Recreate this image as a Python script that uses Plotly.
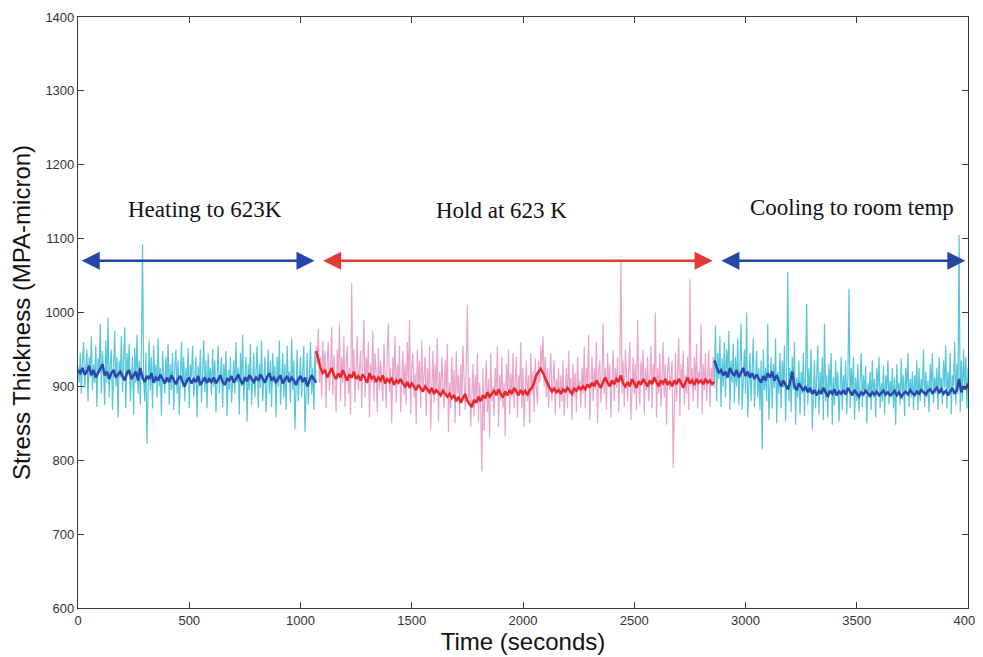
import plotly.graph_objects as go

# ---------------- data ----------------
heat_t0, heat_raw_step, heat_smooth_step = 0, 5, 10
heat_raw = [
    928, 905, 945, 890, 935, 960, 898, 922, 950, 880, 940, 912, 968, 895, 930, 905, 955, 872, 938, 918,
    985, 890, 948, 920, 875, 962, 905, 993, 885, 930, 950, 868, 925, 975, 900, 940, 858, 935, 912, 968,
    892, 930, 980, 870, 945, 915, 958, 880, 925, 940, 862, 952, 905, 970, 890, 935, 875, 950, 1092, 910,
    880, 945, 822, 925, 962, 895, 940, 870, 955, 908, 930, 885, 965, 900, 925, 860, 948, 915, 890, 940,
    905, 958, 875, 930, 895, 945, 868, 925, 950, 890, 935, 862, 915, 960, 898, 940, 880, 925, 905, 952,
    870, 930, 912, 955, 885, 920, 940, 858, 928, 900, 950, 878, 915, 962, 892, 935, 870, 945, 905, 925,
    888, 950, 900, 935, 865, 925, 955, 890, 918, 940, 872, 930, 905, 948, 860, 922, 895, 940, 878, 915,
    935, 890, 960, 905, 925, 862, 945, 900, 970, 880, 918, 940, 852, 930, 895, 958, 875, 920, 945, 885,
    912, 955, 870, 930, 898, 962, 880, 925, 940, 865, 920, 950, 890, 935, 872, 945, 905, 928, 858, 940,
    900, 962, 875, 925, 945, 885, 930, 868, 955, 905, 920, 878, 965, 895, 935, 842, 918, 950, 880, 925,
    940, 885, 920, 955, 838, 910, 945, 875, 930, 960, 890, 925, 868, 948, 905,
]
heat_smooth = [
    922, 918, 925, 916, 920, 928, 915, 922, 912, 918, 924, 930, 915, 920, 910, 918, 922, 912, 916, 920,
    914, 908, 918, 922, 910, 915, 920, 908, 925, 912, 906, 914, 910, 918, 905, 912, 908, 916, 910, 904,
    912, 906, 915, 908, 903, 910, 914, 906, 900, 908, 912, 904, 910, 906, 914, 902, 908, 912, 905, 910,
    906, 912, 904, 910, 915, 906, 902, 910, 908, 914, 905, 910, 916, 908, 903, 912, 907, 915, 910, 906,
    912, 908, 916, 910, 905, 913, 918, 908, 912, 906, 910, 915, 904, 910, 914, 906, 912, 908, 902, 910,
    914, 906, 912, 900, 908, 915, 910, 905,
]

hold_t0, hold_raw_step, hold_smooth_step = 1070, 5, 10
hold_raw = [
    955, 930, 978, 905, 940, 885, 962, 918, 948, 870, 935, 960, 895, 925, 980, 888, 942, 910, 865, 950,
    920, 985, 880, 940, 905, 968, 872, 930, 955, 890, 925, 862, 1040, 915, 950, 878, 935, 968, 895, 920,
    948, 870, 925, 990, 885, 940, 912, 960, 858, 930, 905, 975, 880, 945, 918, 865, 952, 895, 935, 905,
    880, 958, 920, 870, 945, 985, 892, 925, 850, 940, 910, 968, 878, 930, 902, 955, 865, 920, 948, 888,
    930, 875, 960, 905, 990, 862, 925, 945, 885, 918, 848, 950, 900, 935, 870, 962, 892, 915, 940, 860,
    925, 890, 955, 842, 915, 948, 878, 930, 895, 965, 852, 920, 885, 940, 905, 870, 935, 890, 958, 838,
    905, 870, 940, 885, 922, 850, 948, 890, 915, 860, 930, 878, 955, 900, 868, 925, 1010, 880, 912, 845,
    895, 930, 860, 915, 880, 945, 852, 905, 870, 785, 925, 840, 898, 935, 865, 910, 830, 945, 880, 900,
    860, 925, 890, 955, 845, 915, 880, 940, 870, 905, 832, 930, 895, 950, 862, 918, 885, 945, 870, 910,
    940, 858, 915, 890, 960, 870, 925, 845, 905, 935, 880, 915, 850, 945, 890, 920, 865, 938, 900, 875,
    935, 905, 955, 925, 968, 900, 940, 885, 925, 870, 915, 945, 880, 905, 935, 862, 910, 890, 925, 870,
    915, 880, 935, 860, 905, 925, 870, 948, 890, 912, 855, 930, 885, 918, 865, 940, 895, 908, 872, 925,
    890, 955, 870, 925, 905, 970, 855, 915, 940, 880, 925, 895, 960, 850, 918, 935, 878, 910, 985, 890,
    925, 868, 945, 900, 930, 858, 915, 950, 880, 925, 898, 940, 865, 920, 1070, 890, 935, 872, 950, 905,
    880, 925, 960, 855, 915, 940, 890, 930, 868, 990, 905, 875, 935, 910, 950, 862, 925, 895, 940, 880,
    915, 955, 870, 930, 905, 1000, 858, 925, 890, 945, 872, 915, 960, 885, 930, 848, 920, 940, 895, 910,
    935, 790, 905, 945, 880, 920, 965, 860, 930, 900, 948, 875, 915, 890, 940, 868, 1045, 900, 925, 880,
    940, 895, 958, 870, 920, 905, 985, 862, 930, 895, 945, 880, 915, 950, 872, 925, 905, 940, 898,
]
hold_smooth = [
    948, 935, 925, 918, 922, 912, 918, 925, 915, 910, 918, 912, 922, 915, 908, 916, 912, 920, 910, 914,
    908, 916, 912, 905, 918, 910, 914, 906, 912, 908, 915, 904, 910, 906, 912, 902, 908, 905, 910, 904,
    900, 906, 898, 904, 900, 895, 902, 898, 893, 900, 896, 892, 898, 890, 895, 892, 888, 894, 890, 886,
    890, 884, 888, 880, 886, 878, 884, 890, 880, 876, 872, 882, 878, 886, 880, 888, 884, 892, 886, 890,
    894, 888, 896, 890, 885, 893, 888, 895, 890, 898, 892, 888, 895, 890, 894, 888, 895, 898, 905, 915,
    920, 924, 918, 910, 904, 898, 893, 897, 892, 895, 890, 896, 893, 898, 894, 890, 897, 894, 899, 896,
    900, 896, 903, 898, 905, 900, 908, 902, 898, 906, 912, 905, 900, 908, 903, 910, 906, 915, 904, 900,
    906, 900, 910, 904, 898, 907, 902, 910, 905, 900, 908, 903, 912, 906, 900, 908, 904, 910, 902, 907,
    900, 908, 903, 910, 905, 898, 906, 912, 904, 908, 902, 910, 905, 908, 903, 909, 905, 908, 903, 906,
]

cool_t0, cool_raw_step, cool_smooth_step = 2860, 5, 10
cool_raw = [
    905, 982, 880, 945, 910, 968, 872, 938, 900, 960, 885, 950, 918, 975, 868, 935, 905, 958, 878, 940,
    900, 965, 875, 930, 985, 868, 925, 950, 890, 1000, 858, 920, 945, 880, 930, 965, 872, 915, 948, 885,
    925, 868, 935, 815, 950, 895, 925, 880, 985, 855, 915, 940, 870, 930, 898, 965, 850, 920, 890, 945,
    870, 935, 898, 955, 852, 918, 1055, 880, 925, 865, 940, 895, 960, 848, 912, 885, 935, 862, 920, 890,
    945, 860, 918, 1012, 875, 925, 890, 950, 842, 910, 935, 870, 905, 955, 862, 920, 888, 940, 855, 985,
    880, 915, 858, 930, 895, 945, 848, 912, 875, 935, 890, 920, 852, 905, 940, 868, 915, 890, 935, 862,
    910, 1032, 870, 925, 892, 940, 855, 912, 880, 930, 865, 908, 945, 872, 915, 890, 928, 850, 905, 885,
    920, 868, 935, 885, 910, 858, 925, 895, 940, 870, 905, 880, 928, 862, 915, 892, 935, 875, 908, 885,
    925, 870, 912, 848, 930, 890, 905, 875, 938, 882, 915, 860, 925, 895, 945, 872, 910, 885, 920, 868,
    915, 890, 935, 868, 925, 880, 910, 895, 950, 872, 920, 885, 908, 865, 930, 895, 945, 878, 912, 890,
    925, 868, 940, 890, 912, 875, 935, 898, 955, 870, 920, 888, 945, 862, 915, 900, 960, 875, 930, 890,
    1105, 865, 935, 880, 950, 895, 940, 870, 925,
]
cool_smooth = [
    935, 925, 918, 922, 915, 920, 912, 925, 918, 915, 922, 912, 918, 925, 914, 920, 912, 918, 910, 916,
    910, 905, 914, 908, 918, 912, 920, 908, 915, 906, 900, 908, 902, 896, 905, 920, 900, 895, 904, 898,
    894, 900, 892, 898, 890, 895, 888, 894, 890, 898, 892, 886, 894, 890, 896, 888, 893, 890, 895, 889,
    898, 892, 888, 895, 890, 886, 892, 889, 894, 890, 887, 892, 889, 893, 888, 891, 894, 889, 892, 888,
    890, 894, 888, 892, 886, 890, 893, 889, 895, 891, 888, 893, 890, 895, 892, 889, 894, 896, 891, 895,
    898, 892, 896, 890, 894, 888, 893, 898, 890, 895, 910, 892, 900, 896, 904,
]

# phase labels and arrow extents
phase_labels = ["Heating to 623K", "Hold at 623 K", "Cooling to room temp"]
phase_label_x = [570, 1905, 3478]
phase_label_y = [1139, 1138, 1142]
arrow_start = [10, 1095, 2885]
arrow_end = [1063, 2852, 3988]
arrow_y = 1070

x_ticks = [0, 500, 1000, 1500, 2000, 2500, 3000, 3500, 4000]
y_ticks = [600, 700, 800, 900, 1000, 1100, 1200, 1300, 1400]

# ---------------- styles ----------------
CYAN = "#56c6da"
DBLUE = "#2b46ad"
PINK = "#eaa5cb"
RED = "#e8282c"
ARROW_COLORS = ["#2447a6", "#e23a35", "#2447a6"]


def times(t0, step, n):
    return [t0 + step * i for i in range(n)]


fig = go.Figure()
segments = [
    (heat_t0, heat_raw_step, heat_raw, heat_smooth_step, heat_smooth, CYAN, DBLUE),
    (hold_t0, hold_raw_step, hold_raw, hold_smooth_step, hold_smooth, PINK, RED),
    (cool_t0, cool_raw_step, cool_raw, cool_smooth_step, cool_smooth, CYAN, DBLUE),
]
for t0, rs, raw, ss, sm, c_raw, c_sm in segments:
    fig.add_trace(go.Scatter(x=times(t0, rs, len(raw)), y=raw, mode="lines",
                             line=dict(color=c_raw, width=1.2), showlegend=False,
                             hoverinfo="skip"))
for t0, rs, raw, ss, sm, c_raw, c_sm in segments:
    fig.add_trace(go.Scatter(x=times(t0, ss, len(sm)), y=sm, mode="lines",
                             line=dict(color=c_sm, width=2.5), showlegend=False,
                             hoverinfo="skip"))

# double-headed arrows
for xs, xe, col in zip(arrow_start, arrow_end, ARROW_COLORS):
    fig.add_annotation(x=xe, y=arrow_y, ax=xs, ay=arrow_y, xref="x", yref="y",
                       axref="x", ayref="y", text="", showarrow=True,
                       arrowhead=2, startarrowhead=2, arrowside="end+start",
                       arrowsize=1.5, startarrowsize=1.5, arrowwidth=2.4,
                       arrowcolor=col)

for txt, tx, ty in zip(phase_labels, phase_label_x, phase_label_y):
    fig.add_annotation(x=tx, y=ty, xref="x", yref="y", text=txt, showarrow=False,
                       font=dict(family="Liberation Serif", size=23, color="#111111"))

axis_common = dict(showgrid=False, zeroline=False, showline=True, linecolor="#2f3d42",
                   linewidth=1.2, mirror="ticks", ticks="inside", ticklen=6,
                   tickcolor="#2f3d42", tickwidth=1.2, automargin=False,
                   tickfont=dict(family="Liberation Sans", size=13, color="#333333"))

fig.update_xaxes(range=[0, 4000], tickvals=x_ticks, ticklabeloverflow="allow",
                 title=dict(text="Time (seconds)", standoff=2,
                            font=dict(family="Liberation Sans", size=24, color="#111111")),
                 **axis_common)
fig.update_yaxes(range=[600, 1400], tickvals=y_ticks,
                 title=dict(text="Stress Thickness (MPA-micron)", standoff=8,
                            font=dict(family="Liberation Sans", size=24, color="#111111")),
                 **axis_common)

# the page body adds an 8 px offset, so the figure is sized to fit the window
fig.update_layout(width=975, height=649, plot_bgcolor="white", paper_bgcolor="white",
                  margin=dict(l=70, r=15, t=9, b=49), showlegend=False)

fig.write_html("out.html")
